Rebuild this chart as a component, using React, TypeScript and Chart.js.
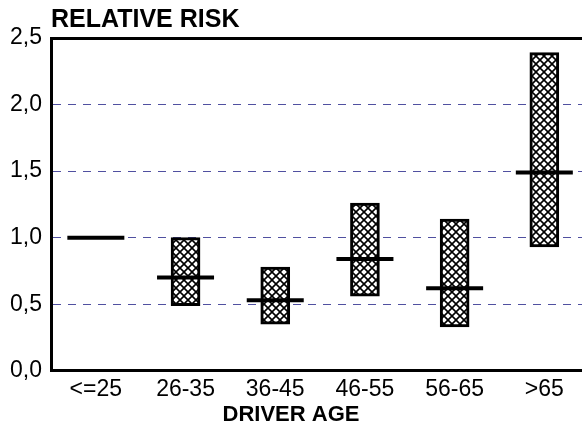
import React, { useEffect, useRef } from 'react';
import { Chart, registerables } from 'chart.js';

Chart.register(...registerables);

const categories = ['<=25', '26-35', '36-45', '46-55', '56-65', '>65'];
const lowValues: (number | null)[] = [null, 0.49, 0.35, 0.56, 0.33, 0.93];
const highValues: (number | null)[] = [null, 1.0, 0.78, 1.26, 1.14, 2.39];
const medianValues = [1.0, 0.70, 0.53, 0.84, 0.62, 1.49];
const yTickValues = [0, 0.5, 1, 1.5, 2, 2.5];
const yTickLabels = ['0,0', '0,5', '1,0', '1,5', '2,0', '2,5'];
const yAxisTitle = 'RELATIVE RISK';
const xAxisTitle = 'DRIVER AGE';

const FONT = '"Liberation Sans", Arial, Helvetica, sans-serif';

function makeHatch(): CanvasPattern | string {
  const tile = document.createElement('canvas');
  tile.width = 8;
  tile.height = 8;
  const c = tile.getContext('2d');
  if (!c) return '#fff';
  c.fillStyle = '#fff';
  c.fillRect(0, 0, 8, 8);
  c.strokeStyle = '#000';
  c.lineWidth = 1.6;
  c.beginPath();
  c.moveTo(-2, -2);
  c.lineTo(10, 10);
  c.moveTo(-2, 10);
  c.lineTo(10, -2);
  c.stroke();
  return c.createPattern(tile, 'repeat') || '#fff';
}

export default function App() {
  const ref = useRef<HTMLCanvasElement | null>(null);

  useEffect(() => {
    if (!ref.current) return;
    const hatch = makeHatch();
    const barData = categories
      .map((_, i) =>
        lowValues[i] == null || highValues[i] == null
          ? null
          : { x: i, y: [lowValues[i] as number, highValues[i] as number] }
      )
      .filter((d) => d !== null);

    const chart = new Chart(ref.current, {
      type: 'bar',
      data: {
        datasets: [
          {
            type: 'scatter',
            data: medianValues.map((m, i) => ({ x: i, y: m })),
            pointStyle: 'line',
            pointRadius: 28.5,
            pointHoverRadius: 28.5,
            pointBorderWidth: 4,
            pointHoverBorderWidth: 4,
            pointBorderColor: '#000',
            pointBackgroundColor: '#000',
            order: 0,
          } as any,
          {
            type: 'bar',
            data: barData as any,
            backgroundColor: hatch as any,
            borderColor: '#000',
            borderWidth: 3,
            borderSkipped: false,
            barThickness: 29,
            order: 1,
          } as any,
        ],
      },
      options: {
        animation: false,
        responsive: false,
        events: [],
        layout: { padding: 0, autoPadding: false },
        plugins: {
          legend: { display: false },
          tooltip: { enabled: false },
          title: {
            display: true,
            text: yAxisTitle,
            align: 'start',
            fullSize: false,
            color: '#000',
            font: { family: FONT, size: 25, weight: 'bold', lineHeight: 1.2 },
            padding: { top: 5, bottom: 3 },
          },
          subtitle: {
            display: true,
            position: 'bottom',
            text: xAxisTitle,
            align: 'center',
            fullSize: true,
            color: '#000',
            font: { family: FONT, size: 22, weight: 'bold', lineHeight: 1.1 },
            padding: { top: 0, bottom: 0 },
          },
        } as any,
        scales: {
          x: {
            type: 'linear',
            offset: false,
            min: -0.5,
            max: 5.42,
            afterBuildTicks: (s: any) => {
              s.ticks = categories.map((_, i) => ({ value: i }));
            },
            afterFit: (s: any) => {
              s.height = 32;
              s.paddingLeft = 0;
              s.paddingRight = 0;
            },
            ticks: {
              callback: (_v: any, i: number) => categories[i] ?? '',
              font: { family: FONT, size: 23 },
              color: '#000',
              padding: 5,
              maxRotation: 0,
              autoSkip: false,
            },
            grid: { display: false, drawTicks: false, offset: false },
            border: { display: true, color: '#000', width: 3 },
          } as any,
          y: {
            type: 'linear',
            min: 0,
            max: 2.5,
            afterBuildTicks: (s: any) => {
              s.ticks = yTickValues.map((v) => ({ value: v }));
            },
            afterFit: (s: any) => {
              s.width = 51;
            },
            ticks: {
              callback: (_v: any, i: number) => yTickLabels[i] ?? '',
              font: { family: FONT, size: 23 },
              color: '#000',
              padding: 9,
            },
            grid: {
              drawTicks: false,
              color: (ctx: any) => {
                const v = ctx.tick ? ctx.tick.value : null;
                if (v === 2.5) return '#000';
                if (v === 0) return 'rgba(0,0,0,0)';
                return '#5050a0';
              },
              lineWidth: (ctx: any) => (ctx.tick && ctx.tick.value === 2.5 ? 3 : 1),
            },
            border: {
              display: true,
              color: '#000',
              width: 3,
              dash: (ctx: any) => (ctx.tick && ctx.tick.value === 2.5 ? [] : [8, 7]),
            },
          } as any,
        },
      },
    });
    return () => chart.destroy();
  }, []);

  return (
    <div style={{ position: 'absolute', left: 0, top: 0, width: 582, height: 427, background: '#fff' }}>
      <canvas ref={ref} width={582} height={427} />
    </div>
  );
}
